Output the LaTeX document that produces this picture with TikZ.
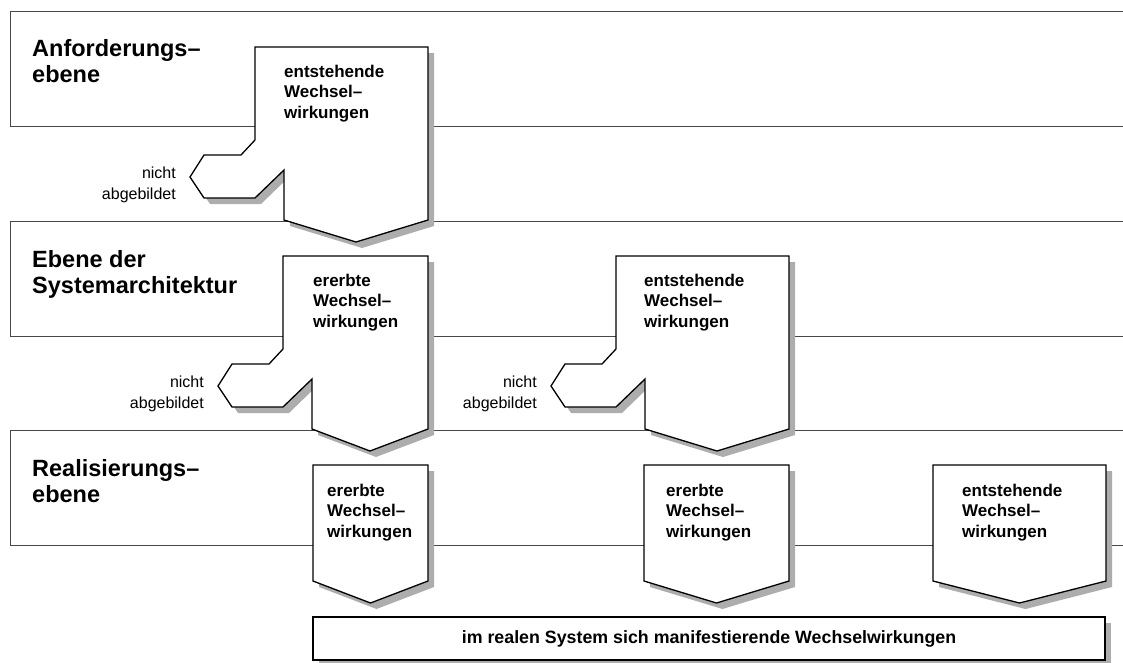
\documentclass[tikz,border=0pt]{standalone}
\usepackage{fontspec}
\setmainfont{Liberation Sans}
\begin{document}
\begin{tikzpicture}[x=1pt,y=-1pt,
  band/.style={draw=black!72, line width=1pt},
  shadowfill/.style={fill=black!32, draw=none},
  shapebody/.style={fill=white, draw=black, line width=1.3pt, line join=miter},
  boxtext/.style={font=\fontsize{17}{20.7}\selectfont\bfseries, align=left, inner sep=0pt, anchor=base west},
  leveltext/.style={font=\fontsize{23.5}{26.7}\selectfont\bfseries, align=left, inner sep=0pt, anchor=base west},
  offtext/.style={font=\fontsize{16}{21}\selectfont, align=right, inner sep=0pt, anchor=base east},
  bartext/.style={font=\fontsize{17.8}{21}\selectfont\bfseries, inner sep=0pt},
]
\useasboundingbox (0,0) rectangle (1123,662);

% level bands (open to the right)
\draw[band] (1123,11) -- (10,11) -- (10,126) -- (1123,126);
\draw[band] (1123,221) -- (10,221) -- (10,336) -- (1123,336);
\draw[band] (1123,430) -- (10,430) -- (10,545) -- (1123,545);

% multi-line labels are placed by the baseline of their last line
\node[leveltext] (lvl-req) at (32,82.7) {Anforderungs–\\ebene};
\node[leveltext] (lvl-arch) at (32,293.7) {Ebene der\\Systemarchitektur};
\node[leveltext] (lvl-real) at (32,502.7) {Realisierungs–\\ebene};

% pentagon with a side notch: left x, top y, width
\newcommand\notchedbox[3]{%
  \fill[shadowfill,shift={(#1+6,#2+6)}] (0,0) -- (#3,0) -- (#3,173) -- ({(#3+29)/2},195) -- (29,173) -- (29,123) -- (0,151) -- (-51,151) -- (-65,130) -- (-51,108) -- (-14,108) -- (0,93) -- cycle;
  \draw[shapebody,shift={(#1,#2)}] (0,0) -- (#3,0) -- (#3,173) -- ({(#3+29)/2},195) -- (29,173) -- (29,123) -- (0,151) -- (-51,151) -- (-65,130) -- (-51,108) -- (-14,108) -- (0,93) -- cycle;
}
% plain pentagon: left x, top y, width
\newcommand\plainbox[3]{%
  \fill[shadowfill,shift={(#1+6,#2+6)}] (0,0) -- (#3,0) -- (#3,116) -- ({#3/2},138) -- (0,116) -- cycle;
  \draw[shapebody,shift={(#1,#2)}] (0,0) -- (#3,0) -- (#3,116) -- ({#3/2},138) -- (0,116) -- cycle;
}

% requirements level
\notchedbox{255}{47}{173}
\node[boxtext] (req-em) at (284,118.4) {entstehende\\Wechsel–\\wirkungen};
\node[offtext] (req-off) at (176,199) {nicht\\abgebildet};

% architecture level
\notchedbox{283}{256}{145}
\node[boxtext] (arch-inh) at (313,327.4) {ererbte\\Wechsel–\\wirkungen};
\node[offtext] (arch-inh-off) at (204,408) {nicht\\abgebildet};

\notchedbox{616}{256}{173}
\node[boxtext] (arch-em) at (644,327.4) {entstehende\\Wechsel–\\wirkungen};
\node[offtext] (arch-em-off) at (537,408) {nicht\\abgebildet};

% realisation level
\plainbox{313}{465}{115}
\node[boxtext] (real-inh1) at (327,537.4) {ererbte\\Wechsel–\\wirkungen};
\plainbox{644}{465}{145}
\node[boxtext] (real-inh2) at (666,537.4) {ererbte\\Wechsel–\\wirkungen};
\plainbox{933}{465}{173}
\node[boxtext] (real-em) at (962,537.4) {entstehende\\Wechsel–\\wirkungen};

% resulting interactions bar
\fill[shadowfill] (319,623) rectangle (1111,666);
\draw[shapebody] (313,617) rectangle (1105,660);
\node[bartext] (sys) at (709,638.5) {im realen System sich manifestierende Wechselwirkungen};
\end{tikzpicture}
\end{document}
